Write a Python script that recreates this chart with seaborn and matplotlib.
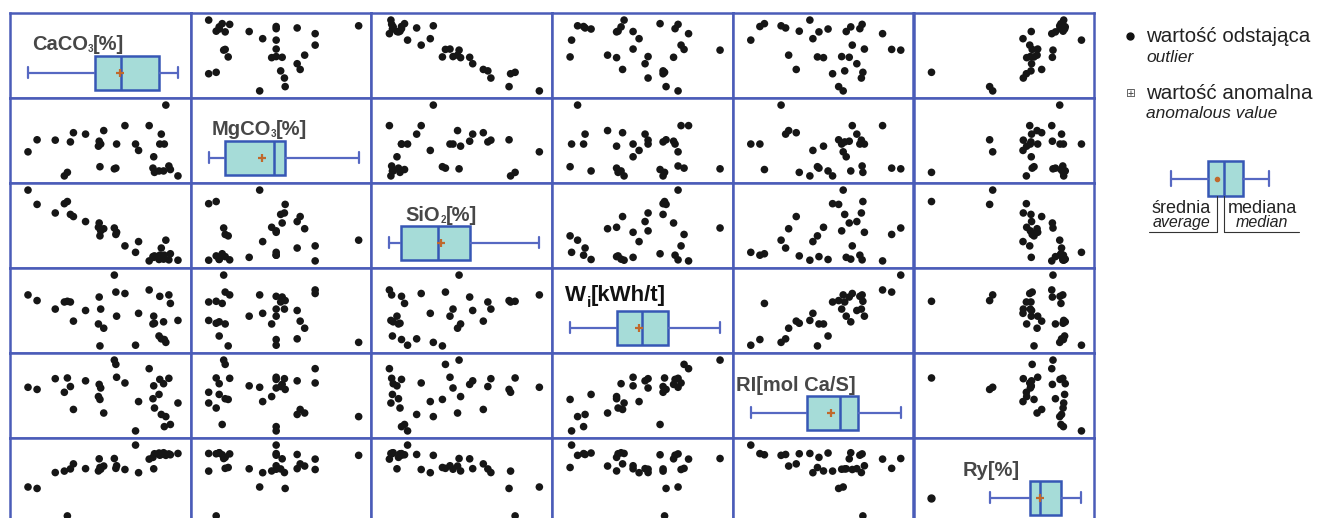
import numpy as np
import pandas as pd
import matplotlib
matplotlib.use("Agg")
import matplotlib.pyplot as plt
import seaborn as sns
from matplotlib.lines import Line2D

# ---------------- data (one value per sample, same order in every list) ----
variables = ["CaCO3", "MgCO3", "SiO2", "Wi", "RI", "Ry"]
# label pieces: main text, subscript, tail
label_parts = {
    "CaCO3": ("CaCO", "3", "[%]"),
    "MgCO3": ("MgCO", "3", "[%]"),
    "SiO2": ("SiO", "2", "[%]"),
    "Wi": ("W", "i", "[kWh/t]"),
    "RI": ("RI[mol Ca/S]", "", ""),
    "Ry": ("Ry[%]", "", ""),
}

caco3 = [58.4, 60.8, 65.6, 68.0, 68.8, 69.6, 70.4, 73.6, 77.2, 77.0, 77.4, 77.6,
         78.4, 81.2, 81.6, 81.8, 84.0, 86.8, 87.6, 90.4, 91.6, 91.4, 91.8, 93.2,
         93.0, 93.6, 94.4, 94.2, 94.8, 95.6, 96.0, 98.0]
mgco3 = [1.76, 2.44, 2.42, 0.40, 0.60, 2.32, 2.84, 2.76, 2.36, 2.08, 0.92, 2.20,
         2.96, 0.80, 0.84, 2.20, 3.24, 2.20, 1.84, 3.24, 1.48, 0.84, 0.60, 2.20,
         0.68, 2.76, 2.20, 0.68, 4.40, 0.96, 0.76, 0.40]
sio2 = [20.8, 16.8, 14.4, 17.0, 17.6, 14.0, 13.4, 12.0, 11.6, 10.4, 8.0, 9.4,
        10.0, 10.2, 8.4, 9.0, 5.2, 3.4, 6.4, 1.0, 2.0, 2.2, 2.4, 2.6,
        1.4, 4.6, 2.6, 1.5, 6.8, 1.3, 3.0, 1.2]
wi = [12.6, 12.2, 11.6, 12.1, 12.15, 12.1, 10.75, 11.5, 12.45, 10.55, 9.0, 11.6,
      10.25, 14.0, 12.8, 11.1, 12.7, 9.05, 11.3, 12.95, 11.1, 10.55, 10.6, 12.5,
      9.7, 9.5, 9.45, 10.7, 9.25, 12.6, 12.0, 10.8]
ri = [2.74, 2.68, 2.98, 2.60, 3.00, 2.76, 2.12, 2.92, 2.82, 2.48, 2.40, 2.72,
      2.02, 3.50, 3.38, 3.02, 2.86, 1.52, 2.34, 3.26, 2.78, 2.42, 2.16, 2.96,
      2.54, 1.98, 1.64, 2.84, 1.92, 2.99, 1.70, 2.30]
ry = [70.5, 69.5, 80.5, 81.5, 50.5, 83.0, 86.5, 83.2, 90.0, 81.6, 84.0, 82.8,
      85.0, 90.2, 83.4, 85.2, 82.6, 99.5, 80.4, 89.8, 83.1, 91.0, 93.5, 92.5,
      94.0, 93.0, 93.6, 94.2, 92.4, 93.4, 92.8, 93.7]

df = pd.DataFrame({"CaCO3": caco3, "MgCO3": mgco3, "SiO2": sio2,
                   "Wi": wi, "RI": ri, "Ry": ry})

# legend key (schematic box plot)
legend_key = {"whislo": 0.0, "q1": 0.38, "med": 0.54, "q3": 0.73,
              "whishi": 1.0, "mean": 0.47}

# ---------------- style --------------------------------------------------
sns.set_style("white")
plt.rcParams["font.family"] = ["Liberation Sans", "DejaVu Sans"]

GRID_BLUE = "#4a5cb8"
BOX_FILL = "#a6dcd8"
BOX_EDGE = "#3657b5"
WHISK = "#5668c2"
MEAN_C = "#c0692c"
DOT = "#161616"
LABEL_C = "#474747"

W, H = 1319, 518
fig = plt.figure(figsize=(W / 100, H / 100), dpi=100)
fig.patch.set_facecolor("white")

x0, y0 = 10, 13
cw, rh = 180.7, 85.0

label_pos = {  # axes-fraction x, baseline y, colour, size, subscript size
    "CaCO3": (0.12, 0.56, LABEL_C, 14.5, 7),
    "MgCO3": (0.115, 0.565, LABEL_C, 14.5, 7),
    "SiO2": (0.19, 0.55, LABEL_C, 14.5, 7),
    "Wi": (0.07, 0.61, "#111111", 16, 11),
    "RI": (0.02, 0.55, LABEL_C, 14.5, 7),
    "Ry": (0.27, 0.55, LABEL_C, 14.5, 7),
}


def xlims(v):
    a, b = df[v].min(), df[v].max()
    r = b - a
    return a - 0.12 * r, b + 0.085 * r


def ylims(v):
    a, b = df[v].min(), df[v].max()
    r = b - a
    return a - 0.1 * r, b + 0.1 * r


def draw_label(ax, v):
    lx, ly, lc, ls, ss = label_pos[v]
    main, sub, tail = label_parts[v]
    t1 = ax.text(lx, ly, main, transform=ax.transAxes, fontsize=ls,
                 fontweight="bold", color=lc, ha="left", va="baseline")
    if sub:
        t2 = ax.annotate(sub, xy=(1, 0), xycoords=t1, fontsize=ss,
                         fontweight="bold", color=lc, ha="left", va="bottom",
                         annotation_clip=False)
        if v == "Wi":
            t2.set_anncoords("offset points")
            t2.xyann = (0.5, -3)
        ax.annotate(tail, xy=(1, 0), xycoords=(t2, t1), fontsize=ls,
                    fontweight="bold", color=lc, ha="left", va="bottom",
                    annotation_clip=False)


for i, vi in enumerate(variables):
    for j, vj in enumerate(variables):
        left = (x0 + j * cw) / W
        bottom = (H - (y0 + (i + 1) * rh)) / H
        ax = fig.add_axes([left, bottom, cw / W, rh / H])
        if i == j:
            sns.boxplot(x=df[vj], ax=ax, orient="h", width=0.8, whis=1.5,
                        color=BOX_FILL, saturation=1, linecolor=BOX_EDGE,
                        linewidth=1.8, showmeans=True, capwidths=0.28,
                        meanprops=dict(marker="+", markeredgecolor=MEAN_C,
                                       markerfacecolor=MEAN_C, markersize=6,
                                       markeredgewidth=1.6),
                        whiskerprops=dict(color=WHISK, linewidth=1.6),
                        capprops=dict(color=WHISK, linewidth=1.6),
                        flierprops=dict(marker="o", markerfacecolor=DOT,
                                        markeredgecolor=DOT, markersize=5))
            ax.set_ylim(-0.6, 1.4)
            draw_label(ax, vj)
        else:
            sns.scatterplot(x=df[vj], y=df[vi], ax=ax, color=DOT, s=30,
                            edgecolor="none", legend=False)
            ax.set_ylim(*ylims(vi))
        ax.set_xlim(*xlims(vj))
        ax.set_xlabel("")
        ax.set_ylabel("")
        ax.set_xticks([])
        ax.set_yticks([])
        for sp in ax.spines.values():
            sp.set_visible(True)
            sp.set_color(GRID_BLUE)
            sp.set_linewidth(1.8)


# ---------------- legend on the right -------------------------------------
def fx(px):
    return px / W


def fy(py):
    return 1 - py / H


fig.add_artist(Line2D([fx(1130)], [fy(36)], marker="o", color="#111111",
                      markersize=5, linestyle="none",
                      transform=fig.transFigure))
fig.text(fx(1146), fy(42), "wartość odstająca", fontsize=14.8, color="#222222",
         ha="left", va="baseline")
fig.text(fx(1146), fy(62), "outlier", fontsize=12.5, style="italic",
         color="#222222", ha="left", va="baseline")
fig.text(fx(1126), fy(97), "⊞", fontsize=8.5, family=["DejaVu Sans"],
         color="#555555", ha="left", va="baseline")
fig.text(fx(1146), fy(99), "wartość anomalna", fontsize=14.8, color="#222222",
         ha="left", va="baseline")
fig.text(fx(1146), fy(118), "anomalous value", fontsize=12.5, style="italic",
         color="#222222", ha="left", va="baseline")

kx0, kx1 = 1160, 1280
ky0, ky1 = 155, 202
kax = fig.add_axes([fx(kx0), fy(ky1), (kx1 - kx0) / W, (ky1 - ky0) / H])
kax.bxp([legend_key], positions=[0], widths=[0.7], orientation="horizontal",
        showmeans=True, showfliers=False, patch_artist=True,
        capwidths=[0.3],
        boxprops=dict(facecolor=BOX_FILL, edgecolor=BOX_EDGE, linewidth=1.8),
        medianprops=dict(color=BOX_EDGE, linewidth=1.8),
        whiskerprops=dict(color=WHISK, linewidth=1.6),
        capprops=dict(color=WHISK, linewidth=1.6),
        meanprops=dict(marker="o", markerfacecolor=MEAN_C,
                       markeredgecolor=MEAN_C, markersize=3))
kax.set_xlim((kx0 - 1171) / 98.0, (kx1 - 1171) / 98.0)
kax.set_ylim(-0.47, 0.47)
kax.axis("off")

fig.text(fx(1152), fy(213), "średnia", fontsize=13, color="#222222",
         ha="left", va="baseline")
fig.text(fx(1153), fy(227), "average", fontsize=11.5, style="italic",
         color="#222222", ha="left", va="baseline")
fig.text(fx(1228), fy(213), "mediana", fontsize=13, color="#222222",
         ha="left", va="baseline")
fig.text(fx(1236), fy(227), "median", fontsize=11.5, style="italic",
         color="#222222", ha="left", va="baseline")
for xs, ys in [([1149, 1216.5], [232, 232]), ([1216.5, 1216.5], [196, 232]),
               ([1224, 1299], [232, 232]), ([1224, 1224], [196, 232])]:
    fig.add_artist(Line2D([fx(x) for x in xs], [fy(y) for y in ys],
                          color="#333333", linewidth=0.8,
                          transform=fig.transFigure))

fig.savefig("out.png", dpi=100, facecolor="white")
